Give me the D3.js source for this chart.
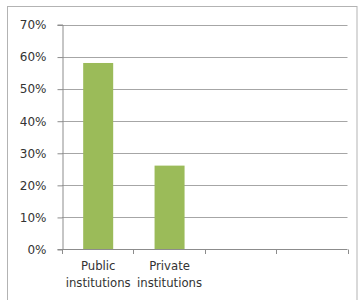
<!DOCTYPE html>
<html>
<head>
<meta charset="utf-8">
<script src="https://cdn.jsdelivr.net/npm/d3@7"></script>
<style>
  html, body { margin: 0; padding: 0; background: #fff; }
  svg { display: block; }
  text { font-family: "DejaVu Sans", sans-serif; fill: #333; }
</style>
</head>
<body>
<svg id="chart" width="358" height="300"></svg>
<script>
// Data
const categories = [["Public", "institutions"], ["Private", "institutions"], [], []];
const values = [0.58, 0.26, null, null];
const yTicks = [0, 0.1, 0.2, 0.3, 0.4, 0.5, 0.6, 0.7];

const svg = d3.select("#chart");
const margin = { left: 62, right: 10.5, top: 24.5, bottom: 51 };
const W = 358, H = 300;

// Outer chart border
svg.append("rect")
  .attr("x", 7.5).attr("y", 6.5)
  .attr("width", 349.5).attr("height", 300)
  .attr("fill", "none").attr("stroke", "#b3b3b3").attr("stroke-width", 1);

const x = d3.scaleBand()
  .domain(d3.range(categories.length))
  .range([margin.left, W - margin.right])
  .paddingInner(0).paddingOuter(0);

const y = d3.scaleLinear()
  .domain([0, 0.7])
  .range([H - margin.bottom, margin.top]);

// Gridlines
svg.append("g")
  .selectAll("line")
  .data(yTicks.filter(d => d > 0))
  .join("line")
  .attr("x1", margin.left).attr("x2", W - margin.right)
  .attr("y1", d => Math.round(y(d)) + 0.5).attr("y2", d => Math.round(y(d)) + 0.5)
  .attr("stroke", "#a6a6a6").attr("stroke-width", 1);

// Bars
const barW = 30;
svg.append("g")
  .selectAll("rect")
  .data(values.map((v, i) => ({ v, i })).filter(d => d.v != null))
  .join("rect")
  .attr("x", d => x(d.i) + x.bandwidth() / 2 - barW / 2 + 0.5)
  .attr("width", barW)
  .attr("y", d => y(d.v))
  .attr("height", d => y(0) - y(d.v))
  .attr("fill", "#9bbb59");

// Y axis
const yAxis = d3.axisLeft(y)
  .tickValues(yTicks)
  .tickFormat(d3.format(".0%"))
  .tickSize(5)
  .tickPadding(11);
const gy = svg.append("g")
  .attr("transform", `translate(${margin.left + 0.5},0)`)
  .call(yAxis);
gy.select(".domain").attr("stroke", "#8c8c8c");
gy.selectAll(".tick line").attr("stroke", "#8c8c8c")
  .attr("transform", "translate(0,0.5)");
gy.selectAll(".tick text")
  .style("font-size", "12px")
  .attr("dy", "0.36em")
  .attr("fill", "#333");

// X axis line and boundary ticks
const gx = svg.append("g");
const boundaries = d3.range(categories.length + 1).map(i =>
  i < categories.length ? x(i) : x(categories.length - 1) + x.bandwidth());
gx.append("line")
  .attr("x1", margin.left).attr("x2", W - margin.right)
  .attr("y1", Math.round(y(0)) + 0.5).attr("y2", Math.round(y(0)) + 0.5)
  .attr("stroke", "#8c8c8c");
gx.selectAll("line.bt")
  .data(boundaries)
  .join("line")
  .attr("class", "bt")
  .attr("x1", d => Math.round(d) + 0.5).attr("x2", d => Math.round(d) + 0.5)
  .attr("y1", Math.round(y(0)) + 0.5).attr("y2", Math.round(y(0)) + 5)
  .attr("stroke", "#8c8c8c");

// Category labels
const lab = svg.append("g")
  .selectAll("text")
  .data(categories.map((c, i) => ({ c, i })))
  .join("text")
  .attr("text-anchor", "middle")
  .style("font-size", "11.7px")
  .attr("x", d => x(d.i) + x.bandwidth() / 2 + 0.5)
  .attr("y", y(0) + 21);
lab.selectAll("tspan")
  .data(d => d.c.map((t, k) => ({ t, k, xx: x(d.i) + x.bandwidth() / 2 + 0.5 })))
  .join("tspan")
  .attr("x", d => d.xx)
  .attr("dy", d => d.k === 0 ? 0 : 16.5)
  .text(d => d.t);
</script>
</body>
</html>
